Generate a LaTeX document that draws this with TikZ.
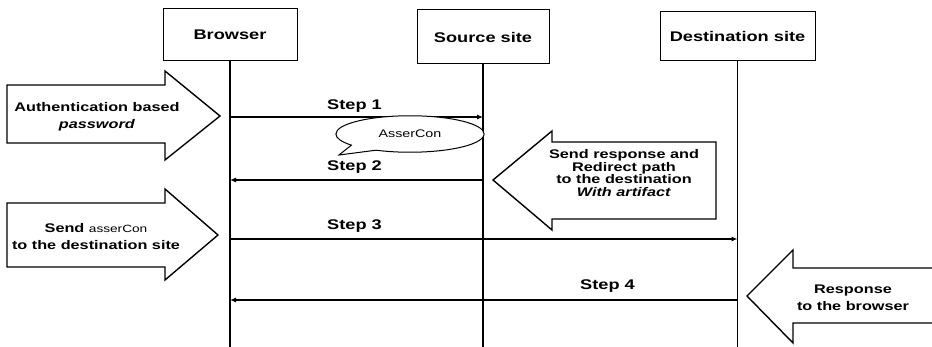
\documentclass[tikz,border=0pt]{standalone}
\usepackage{fontspec}
\setmainfont{Liberation Sans}[FakeStretch=1.3]
\usetikzlibrary{arrows.meta,shapes.callouts}
\newcommand{\hdrfont}{\fontsize{14}{16}\bfseries\selectfont}
\newcommand{\blkfont}{\fontsize{12.5}{17}\bfseries\selectfont}
\newcommand{\smfont}{\fontsize{11}{13}\selectfont}
\tikzset{
  actor/.style={draw, line width=1pt, font=\hdrfont, inner sep=0pt},
  lifeline/.style={line width=1.2pt},
  msg/.style={line width=1.1pt, -{Latex[length=6pt,width=5pt]}},
  steplbl/.style={font=\hdrfont, anchor=base west, inner sep=0pt},
  blockarrow/.style={draw, line width=1.4pt, line join=miter, fill=white},
  blocktext/.style={font=\blkfont, align=center, inner sep=0pt},
}
\begin{document}
\begin{tikzpicture}[x=1pt,y=-1pt]
\useasboundingbox (0,0) rectangle (932,347);
% actors
\node[actor, minimum width=134pt, minimum height=52pt] (browser) at (230,35) {Browser};
\node[actor, minimum width=132pt, minimum height=54pt] (source) at (483,37) {Source site};
\node[actor, minimum width=155pt, minimum height=49pt] (dest) at (737.5,36.5) {Destination site};
% lifeline ends
\coordinate (browserEnd) at (230,347);
\coordinate (sourceEnd) at (483,347);
\coordinate (destEnd) at (737.5,347);
\draw[lifeline] (browser.south) -- (browserEnd);
\draw[lifeline] (source.south) -- (sourceEnd);
\draw[lifeline] (dest.south) -- (destEnd);
% message anchor points
\coordinate (b1) at (230,117);   \coordinate (s1) at (483,117);
\coordinate (b2) at (230,180);   \coordinate (s2) at (483,180);
\coordinate (b3) at (230,239);   \coordinate (d3) at (737.5,239);
\coordinate (b4) at (230,300);   \coordinate (d4) at (737.5,300);
\draw[msg] (b1) -- (s1);
\draw[msg] (s2) -- (b2);
\draw[msg] (b3) -- (d3);
\draw[msg] (d4) -- (b4);
\node[steplbl] (st1) at (327,110) {Step 1};
\node[steplbl] (st2) at (327,171) {Step 2};
\node[steplbl] (st3) at (327,230) {Step 3};
\node[steplbl] (st4) at (580,290) {Step 4};
% callout
\node[ellipse callout, draw, line width=1pt, fill=white, inner xsep=21pt, inner ysep=9pt,
      callout absolute pointer={(339,155)}, callout pointer arc=25, font=\smfont] (asser) at (410,134) {AsserCon};
% block arrow 1
\draw[blockarrow] (7,85) -- (165,85) -- (165,71) -- (220,116) -- (165,160) -- (165,143) -- (7,143) -- cycle;
\node[blocktext] (t1) at (97,117) {Authentication based\\\textit{password}};
% block arrow 2
\draw[blockarrow] (7,203) -- (165,203) -- (165,189) -- (218,235) -- (165,280) -- (165,267) -- (7,267) -- cycle;
\node[blocktext] (t2) at (96,237) {Send {\mdseries\fontsize{10.5}{12}\selectfont asserCon}\\to the destination site};
% block arrow 3
\draw[blockarrow] (493,180) -- (552,131) -- (552,142) -- (716,142) -- (716,219) -- (552,219) -- (552,230) -- cycle;
\node[blocktext, font=\fontsize{12.5}{12.4}\bfseries\selectfont] (t3) at (624,173) {Send response and\\Redirect path\\to the destination\\\textit{With artifact}};
% block arrow 4 (cut at right edge)
\draw[blockarrow, fill=none] (933,268) -- (793,268) -- (793,250) -- (747,296) -- (793,343) -- (793,323) -- (933,323);
\node[blocktext] (t4) at (853,298) {Response\\to the browser};
\end{tikzpicture}
\end{document}
